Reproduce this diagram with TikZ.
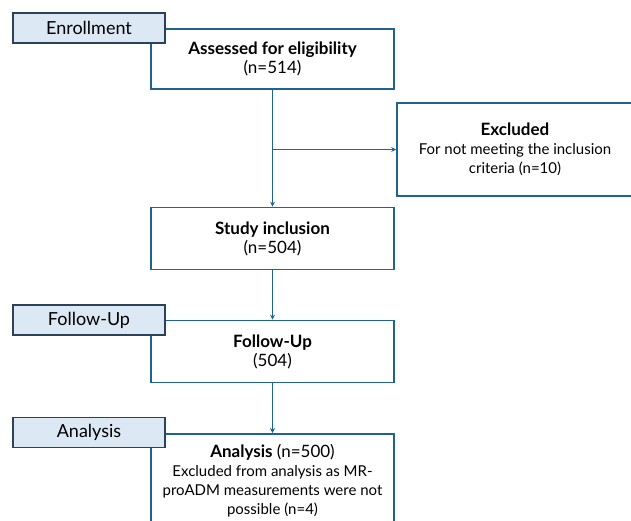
\documentclass[tikz,border=0pt]{standalone}
\usepackage{fontspec}
\setmainfont{Lato}
\usetikzlibrary{arrows.meta}
\definecolor{boxblue}{HTML}{1F6391}
\definecolor{tagfill}{HTML}{DCE8F4}
\definecolor{tagline}{HTML}{2B4259}
\newcommand{\smalltxt}{\fontsize{15}{18.5}\selectfont}
\tikzset{
  stagebox/.style={draw=boxblue, line width=1.6pt, fill=white, align=center,
    minimum width=243pt, inner sep=2pt, font=\fontsize{17}{19}\selectfont},
  tagbox/.style={draw=tagline, line width=1.2pt, fill=tagfill,
    minimum width=152pt, minimum height=30pt, font=\fontsize{18}{21}\selectfont},
  flow/.style={boxblue, line width=1.3pt, -{Stealth[length=5pt,width=5pt]}}
}
\begin{document}
\begin{tikzpicture}[x=1pt,y=-1pt]
        \useasboundingbox (0,0) rectangle (631,521);
        % enrollment
        \node[stagebox, minimum height=60pt] (assess) at (272.5,59)
            {\textbf{Assessed for eligibility}\\(n=514)};
        \node[stagebox, minimum width=236pt, minimum height=93pt] (excl) at (515,149.5)
            {\textbf{Excluded}\\\smalltxt For not meeting the inclusion\\\smalltxt criteria (n=10)};
        \node[stagebox, minimum height=62pt] (incl) at (272.5,238.5)
            {\textbf{Study inclusion}\\(n=504)};
        \node[tagbox] (enroll) at (89,28) {Enrollment};
        % follow-up
        \node[stagebox, minimum height=62pt] (follow) at (272.5,351.5)
            {\textbf{Follow-Up}\\(504)};
        \node[tagbox] (followtag) at (89,320) {Follow-Up};
        % analysis
        \node[stagebox, inner ysep=11pt, anchor=north] (analysis) at (272.5,433)
            {\textbf{Analysis} (n=500)\\\smalltxt Excluded from analysis as MR-\\
             \smalltxt proADM measurements were not\\\smalltxt possible (n=4)};
        \node[tagbox] (analysistag) at (89,432.5) {Analysis};
        % arrows
        \coordinate (branch) at (assess.south |- excl.west);
        \draw[flow] (assess) -- (incl);
        \draw[flow] (branch) -- (excl);
        \draw[flow] (incl) -- (follow);
        \draw[flow] (follow) -- (analysis);
    \end{tikzpicture}
\end{document}
